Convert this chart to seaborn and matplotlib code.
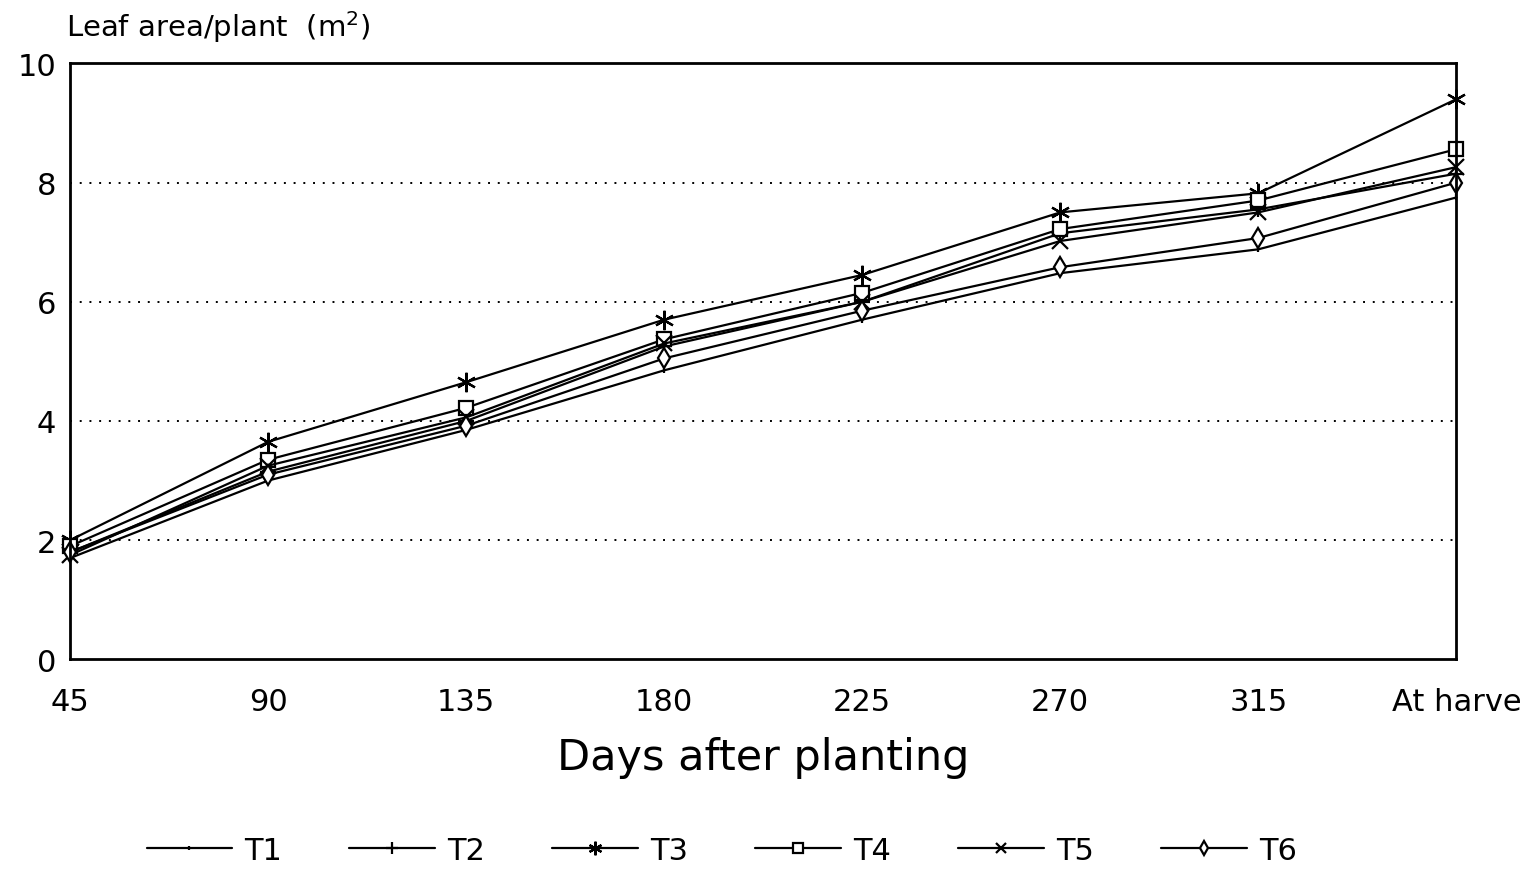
import matplotlib
matplotlib.use("Agg")
import matplotlib.pyplot as plt
import seaborn as sns
import pandas as pd

days = ["45", "90", "135", "180", "225", "270", "315", "At harve"]
T1 = [1.70, 3.00, 3.85, 4.85, 5.70, 6.48, 6.88, 7.75]
T2 = [1.80, 3.15, 4.00, 5.25, 6.00, 7.15, 7.55, 8.15]
T3 = [2.00, 3.65, 4.65, 5.70, 6.45, 7.50, 7.82, 9.40]
T4 = [1.90, 3.35, 4.22, 5.37, 6.15, 7.22, 7.70, 8.56]
T5 = [1.75, 3.25, 4.06, 5.30, 6.00, 7.02, 7.50, 8.26]
T6 = [1.80, 3.10, 3.92, 5.05, 5.85, 6.58, 7.07, 8.00]

series = {"T1": T1, "T2": T2, "T3": T3, "T4": T4, "T5": T5, "T6": T6}
markers = {"T1": "|", "T2": "+", "T3": (6, 2, 0), "T4": "s", "T5": "x", "T6": "d"}
msizes = {"T1": 5, "T2": 12, "T3": 14, "T4": 10, "T5": 11, "T6": 10}

rows = []
for name, vals in series.items():
    for i, v in enumerate(vals):
        rows.append({"pos": i, "value": v, "series": name})
df = pd.DataFrame(rows)

sns.set_theme(style="white")
plt.rcParams["font.family"] = ["DejaVu Sans"]
plt.rcParams["text.color"] = "black"

fig = plt.figure(figsize=(15.25, 8.7), dpi=100)
ax = fig.add_axes([0.046, 0.241, 0.909, 0.685])

for name in series:
    sub = df[df["series"] == name]
    sns.lineplot(data=sub, x="pos", y="value", ax=ax, color="black", linewidth=1.6,
                 marker=markers[name], markersize=msizes[name], markerfacecolor="white",
                 markeredgecolor="black", markeredgewidth=1.6, label=name, clip_on=False)

ax.set_xlim(0, len(days) - 1)
ax.set_ylim(0, 10)
ax.set_xticks(range(len(days)))
ax.set_xticklabels(days)
ax.set_yticks([0, 2, 4, 6, 8, 10])
ax.tick_params(axis="x", length=0, labelsize=22, colors="black", pad=20)
ax.tick_params(axis="y", length=0, labelsize=22, colors="black", pad=10)
for y in [2, 4, 6, 8]:
    ax.axhline(y, color="black", linestyle=(0, (1, 4)), linewidth=1.4, zorder=0)
for s in ax.spines.values():
    s.set_color("black")
    s.set_linewidth(2)

ax.set_xlabel("Days after planting", fontsize=31, labelpad=14, color="black")
ax.set_ylabel("")
fig.text(0.043, 0.948, "Leaf area/plant  (m$^2$)", fontsize=21, color="black", ha="left", va="bottom")

leg = ax.legend(loc="upper center", bbox_to_anchor=(0.47, -0.25), ncol=6, frameon=False,
                fontsize=22, handlelength=2.8, columnspacing=2.2, handletextpad=0.4,
                markerscale=0.7)
for t in leg.get_texts():
    t.set_color("black")

fig.savefig("out.png", dpi=100, facecolor="white")
